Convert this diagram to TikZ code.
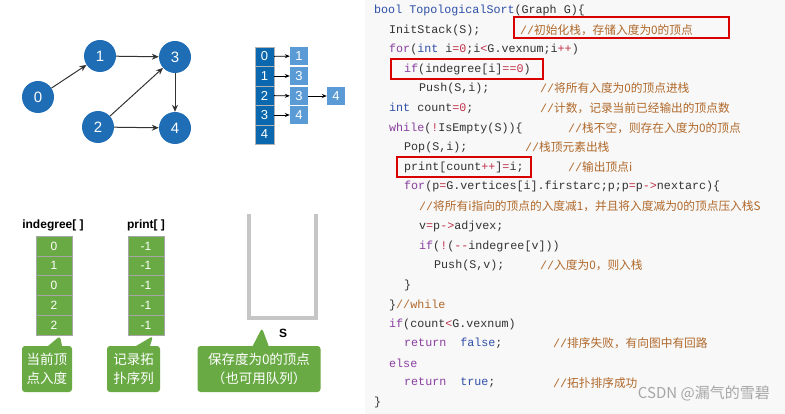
\documentclass[tikz,border=0pt]{standalone}
\usepackage{fontspec}
\setmainfont{Liberation Sans}
\newfontfamily\cmono{Liberation Mono}[Ligatures=NoCommon]
\newfontfamily\cjk{Noto Sans CJK SC}
\usetikzlibrary{arrows.meta,shapes.callouts}
\definecolor{kwc}{HTML}{8A3FA0}
\definecolor{tyc}{HTML}{2F4FA8}
\definecolor{nmc}{HTML}{C0304A}
\definecolor{cmc}{HTML}{B0682A}
\definecolor{txc}{HTML}{333333}
\definecolor{gnode}{HTML}{1F6DB5}
\definecolor{adjd}{HTML}{0B68AE}
\definecolor{adjl}{HTML}{5B9BD5}
\definecolor{grn}{HTML}{6AAA45}
\definecolor{codebg}{HTML}{F8F8F8}
\newcommand{\kw}[1]{\textcolor{kwc}{#1}}
\newcommand{\ty}[1]{\textcolor{tyc}{#1}}
\newcommand{\nm}[1]{\textcolor{nmc}{#1}}
\newcommand{\cm}[1]{\textcolor{cmc}{{\cmono //}{\cjk #1}}}
\begin{document}
\begin{tikzpicture}[x=1pt,y=-1pt,
  code/.style={anchor=west,inner sep=0,font=\cmono\fontsize{11.7}{12}\selectfont,text=txc},
  cmt/.style={anchor=west,inner sep=0,font=\cmono\fontsize{11.7}{12}\selectfont},
  vtx/.style={circle,fill=gnode,minimum size=32,inner sep=0,text=white,font=\fontsize{15}{16}\selectfont},
  garr/.style={-{Stealth[length=7,width=6]},line width=1,black!80},
  adjc/.style={draw=gray!60,fill=adjd,minimum width=19,minimum height=19.5,inner sep=0,text=white,font=\fontsize{13}{14}\selectfont},
  adjb/.style={fill=adjl,minimum width=18,minimum height=18,inner sep=0,text=white,font=\fontsize{13}{14}\selectfont},
  aarr/.style={-{Stealth[length=5,width=4]},line width=0.8,black},
  cell/.style={draw=gray!70,fill=grn,minimum width=36,minimum height=19.8,inner sep=0,text=white,font=\fontsize{12}{13}\selectfont},
  lbl/.style={font=\bfseries\fontsize{12}{13}\selectfont,inner sep=0},
  call/.style={rectangle callout,rounded corners=3,fill=grn,text=white,inner sep=3,font=\cjk\fontsize{13.5}{19}\selectfont,align=center},
  rbox/.style={draw=red!85!black,line width=1.6}]
\useasboundingbox (0,0) rectangle (785,414);
\fill[codebg] (365,0) rectangle (785,414);
% graph
\node[vtx] (v0) at (38,97) {0};
\node[vtx] (v1) at (100,56) {1};
\node[vtx] (v3) at (175,57) {3};
\node[vtx] (v2) at (98,127) {2};
\node[vtx] (v4) at (175,128) {4};
\draw[garr] (v0) -- (v1);
\draw[garr] (v1) -- (v3);
\draw[garr] (v2) -- (v3);
\draw[garr] (v2) -- (v4);
\draw[garr] (v3) -- (v4);
% adjacency list
\foreach \i in {0,...,4}{\node[adjc] (c\i) at (264.5,{56.5+19.5*\i}) {\i};}
\node[adjb] (a0) at (299,56) {1};
\node[adjb] (a1) at (299,76) {3};
\node[adjb] (a2) at (299,96) {3};
\node[adjb] (a22) at (336,96) {4};
\node[adjb] (a3) at (299,115) {4};
\draw[aarr] (c0) -- (a0);
\draw[aarr] (c1) -- (a1);
\draw[aarr] (c2) -- (a2);
\draw[aarr] (a2) -- (a22);
\draw[aarr] (c3) -- (a3);
% arrays
\node[lbl] (l1) at (53,225) {indegree[ ]};
\node[lbl] (l2) at (146,225) {print[ ]};
\foreach \v [count=\k from 0] in {0,1,0,2,2}{\node[cell] (d\k) at (54,{246+19.8*\k}) {\v};}
\foreach \k in {0,...,4}{\node[cell] (p\k) at (146,{246+19.8*\k}) {-1};}
% stack
\draw[gray!45,line width=4] (249,214) -- (249,318) -- (316,318) -- (316,214);
\node[lbl] (s) at (283,333) {S};
% callouts
\node[call,minimum width=50,minimum height=46,callout absolute pointer={(60,336)},callout pointer width=14] (k1) at (47,369) {当前顶\\点入度};
\node[call,minimum width=53,minimum height=46,callout absolute pointer={(153,336)},callout pointer width=14] (k2) at (133.5,369) {记录拓\\扑序列};
\node[call,minimum width=123,minimum height=46,callout absolute pointer={(262,328)},callout pointer width=16] (k3) at (259,369) {保存度为0的顶点\\（也可用队列）};
% code
\node[code] (L1) at (374,10) {\ty{bool} \ty{TopologicalSort}(Graph G)\{};
\node[code] (L2) at (389,30) {InitStack(S);};
\node[cmt] at (520,30) {\cm{初始化栈，存储入度为0的顶点}};
\node[code] (L3) at (389,49) {\kw{for}(\ty{int} i\nm{=}\nm{0};i\nm{<}G.vexnum;i\nm{++})};
\node[code] (L4) at (404,69) {\kw{if}(indegree[i]\nm{==}\nm{0})};
\node[code] (L5) at (419,88) {Push(S,i);};
\node[cmt] at (540,88) {\cm{将所有入度为0的顶点进栈}};
\node[code] (L6) at (389,108) {\ty{int} count\nm{=}\nm{0};};
\node[cmt] at (540,108) {\cm{计数，记录当前已经输出的顶点数}};
\node[code] (L7) at (389,128) {\kw{while}(\nm{!}IsEmpty(S))\{};
\node[cmt] at (568,128) {\cm{栈不空，则存在入度为0的顶点}};
\node[code] (L8) at (404,147) {Pop(S,i);};
\node[cmt] at (525,147) {\cm{栈顶元素出栈}};
\node[code] (L9) at (404,167) {print[count\nm{++}]\nm{=}i;};
\node[cmt] at (568,167) {\cm{输出顶点i}};
\node[code] (L10) at (404,186) {\kw{for}(p\nm{=}G.vertices[i].firstarc;p;p\nm{=}p\nm{->}nextarc)\{};
\node[cmt] at (419,206) {\cm{将所有i指向的顶点的入度减1，并且将入度减为0的顶点压入栈S}};
\node[code] (L12) at (419,226) {v\nm{=}p\nm{->}adjvex;};
\node[code] (L13) at (419,246) {\kw{if}(\nm{!}(\nm{-{}-}indegree[v]))};
\node[code] (L14) at (434,265) {Push(S,v);};
\node[cmt] at (540,265) {\cm{入度为0，则入栈}};
\node[code] (L15) at (404,285) {\}};
\node[code] (L16) at (389,305) {\}\textcolor{cmc}{//while}};
\node[code] (L17) at (389,324) {\kw{if}(count\nm{<}G.vexnum)};
\node[code] (L18) at (404,343) {\kw{return}\ \ \ty{false};};
\node[cmt] at (553,343) {\cm{排序失败，有向图中有回路}};
\node[code] (L19) at (389,363) {\kw{else}};
\node[code] (L20) at (404,383) {\kw{return}\ \ \ty{true};};
\node[cmt] at (553,383) {\cm{拓扑排序成功}};
\node[code] (L21) at (374,402) {\}};
\node[anchor=east,inner sep=0,text=gray!70,font=\cjk\fontsize{15}{16}\selectfont] at (770,393) {CSDN @漏气的雪碧};
% red boxes
\draw[rbox] (514,17) rectangle (729,38);
\draw[rbox] (391,59) rectangle (543,79);
\draw[rbox] (397,157) rectangle (531,177);
\end{tikzpicture}
\end{document}
